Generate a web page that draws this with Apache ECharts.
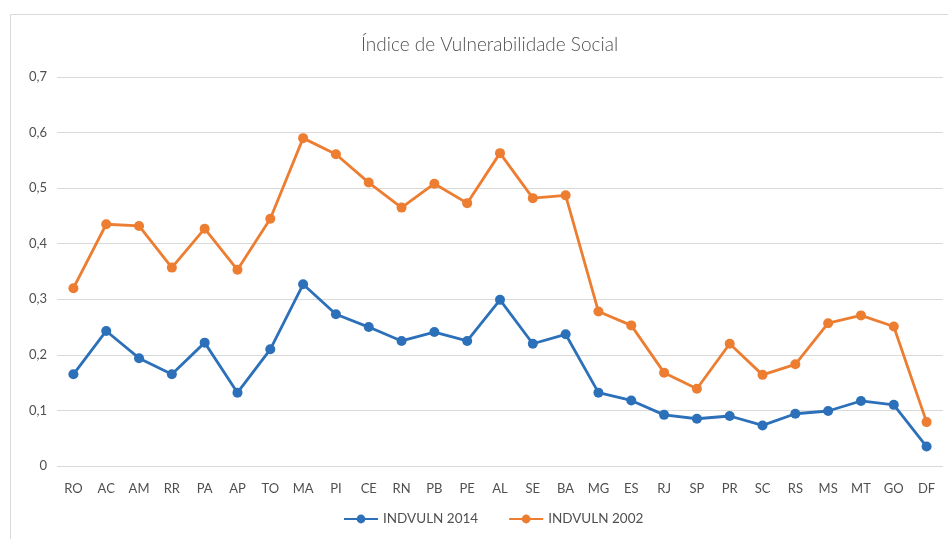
<!DOCTYPE html>
<html>
<head>
<meta charset="utf-8">
<script src="https://cdn.jsdelivr.net/npm/echarts@6/dist/echarts.min.js"></script>
<style>
html,body{margin:0;padding:0;background:#fff;}
#c{width:948px;height:539px;}
</style>
</head>
<body>
<div id="c"></div>
<script>
const categories = ["RO","AC","AM","RR","PA","AP","TO","MA","PI","CE","RN","PB","PE","AL","SE","BA","MG","ES","RJ","SP","PR","SC","RS","MS","MT","GO","DF"];
const indvuln2014 = [0.165,0.243,0.194,0.165,0.222,0.132,0.210,0.327,0.273,0.250,0.225,0.241,0.225,0.299,0.220,0.237,0.132,0.118,0.092,0.085,0.090,0.073,0.094,0.099,0.117,0.110,0.035];
const indvuln2002 = [0.320,0.435,0.432,0.357,0.427,0.353,0.445,0.590,0.561,0.510,0.465,0.508,0.473,0.563,0.482,0.487,0.278,0.253,0.168,0.139,0.220,0.164,0.183,0.257,0.271,0.251,0.079];
const seriesNames = ["INDVULN 2014","INDVULN 2002"];
const titleText = "Índice de Vulnerabilidade Social";

const chart = echarts.init(document.getElementById('c'));
const font = 'Lato, "Open Sans", sans-serif';
chart.setOption({
  animation:false,
  backgroundColor:'#fff',
  graphic:[{type:'rect',shape:{x:10.5,y:14.5,width:960,height:600},style:{fill:'none',stroke:'#d9d9d9',lineWidth:1},silent:true}],
  title:{text:titleText,left:356,top:30,textStyle:{fontFamily:font,fontSize:19,fontWeight:300,color:'#505050'}},
  legend:{bottom:8,left:338,itemGap:30,itemWidth:34,itemHeight:11,
    textStyle:{fontFamily:font,fontSize:13.5,color:'#505050'},data:seriesNames},
  grid:{left:57,right:5,top:77,bottom:73,containLabel:false},
  xAxis:{type:'category',data:categories,boundaryGap:true,
    axisLine:{show:false},axisTick:{show:false},
    axisLabel:{fontFamily:font,fontSize:13,color:'#505050',margin:16,interval:0}},
  yAxis:{type:'value',min:0,max:0.7,interval:0.1,
    axisLine:{show:false},axisTick:{show:false},
    splitLine:{lineStyle:{color:'#d9d9d9',width:1}},
    axisLabel:{fontFamily:font,fontSize:13,color:'#505050',margin:10,
      formatter:v=>v===0?'0':v.toFixed(1).replace('.',',')}},
  series:[
    {name:seriesNames[0],type:'line',data:indvuln2014,symbol:'circle',symbolSize:10,
     itemStyle:{color:'#2B70B8'},lineStyle:{width:2.8,color:'#2B70B8'}},
    {name:seriesNames[1],type:'line',data:indvuln2002,symbol:'circle',symbolSize:10,
     itemStyle:{color:'#ED7D31'},lineStyle:{width:2.8,color:'#ED7D31'}}
  ]
});
</script>
</body>
</html>
